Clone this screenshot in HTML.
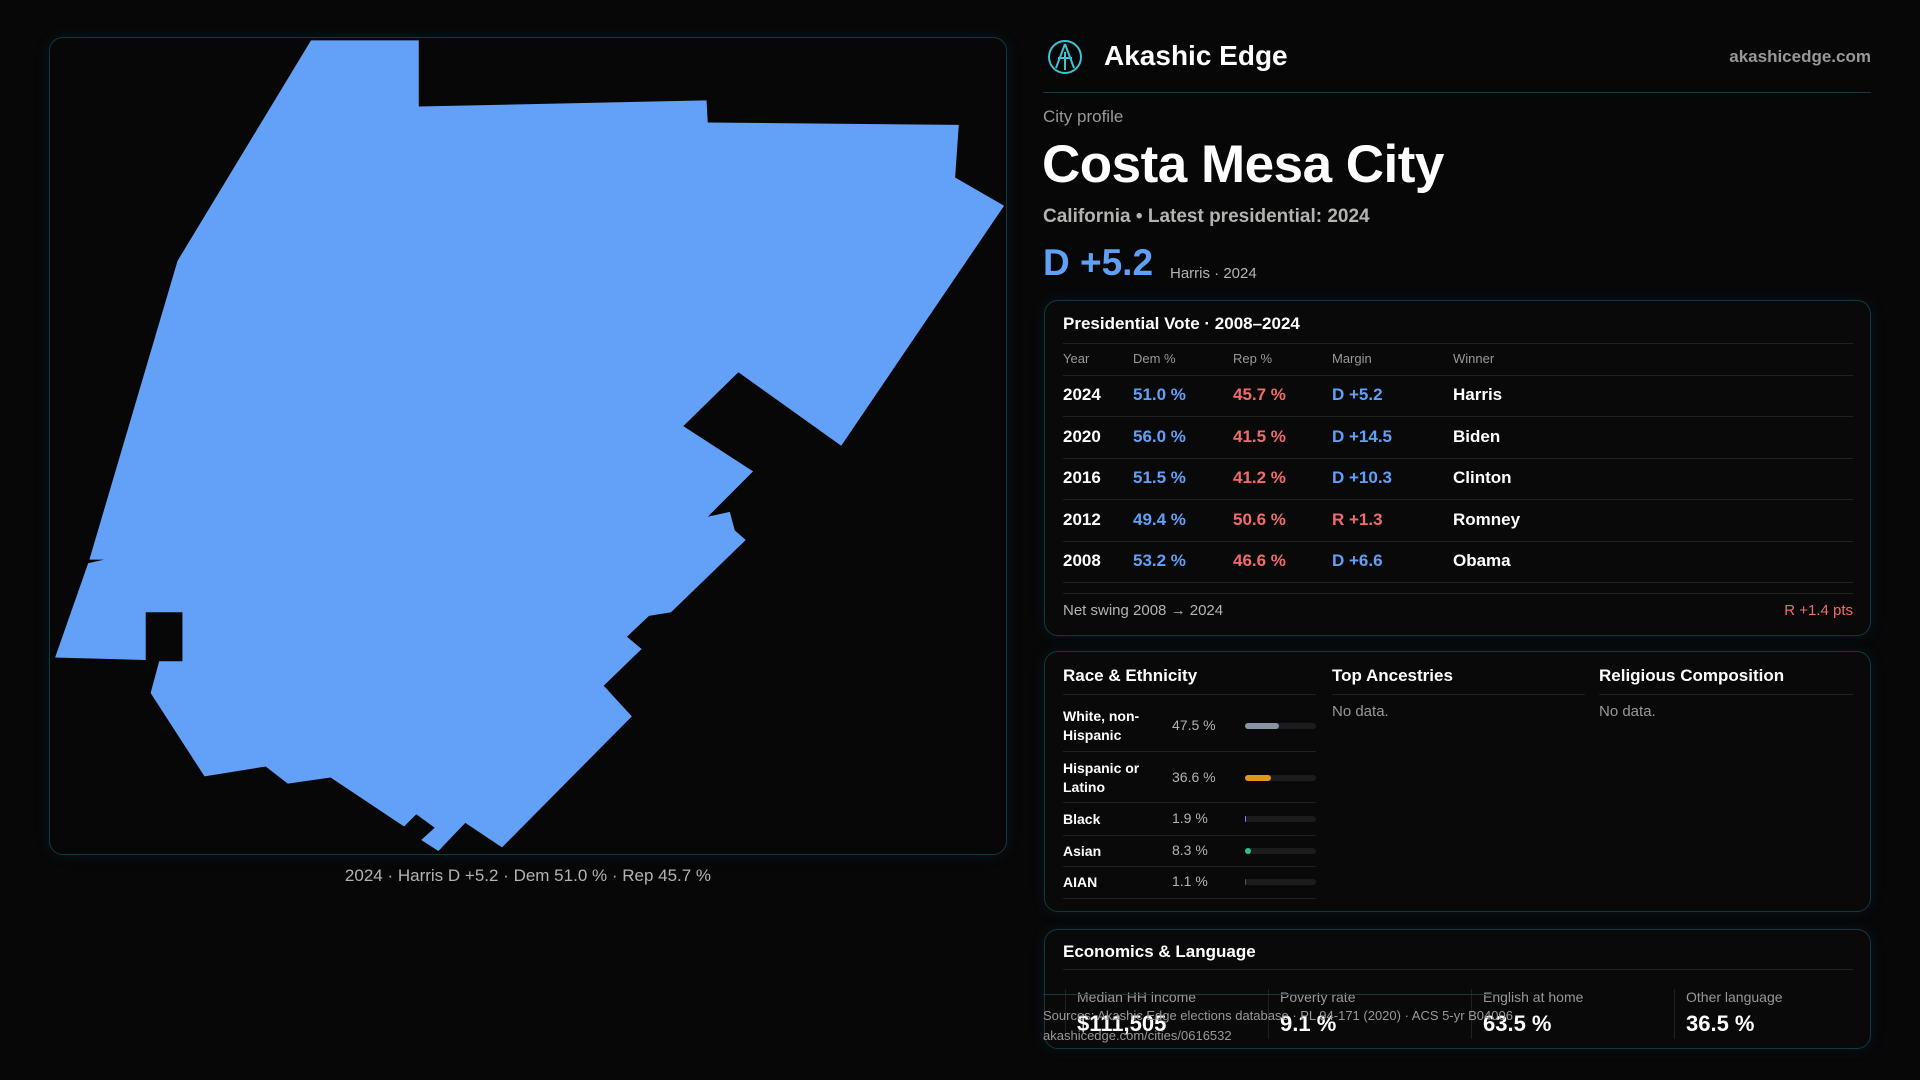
<!DOCTYPE html>
<html><head><meta charset="utf-8">
<style>
*{box-sizing:border-box;margin:0;padding:0}
body{width:1920px;height:1080px;background:#070708;font-family:"Liberation Sans",sans-serif;color:#fff;position:relative;overflow:hidden}
.abs{position:absolute}
.card{position:absolute;border:1px solid #143840;border-radius:14px;background:#09090a;box-shadow:0 0 14px rgba(30,90,110,0.18)}
.muted{color:#9a9896}
.blue{color:#5ea1f7}.red{color:#f26b6b}
.hdr{position:absolute;font-size:13px;color:#9a9896}
.line{position:absolute;height:1px;background:#1e2224}
</style></head><body>
<div class="card" style="left:49px;top:37px;width:958px;height:818px;background:#070708"></div>
<svg class="abs" style="left:0;top:0" width="1920" height="1080" viewBox="0 0 1568 882">
<path fill="#63a1f8" d="M254,33 L342,33 L342,87 L577,82 L578,100 L783,102 L780,145 L820,168 L687,364 L603,304 L558,348 L615,385 L578,422 L596,418 L600,433 L609,441 L548,500 L530,503 L512,520 L524,530 L493,560 L516,585 L410,692 L380,672 L358,695 L344,686 L355,676 L340,665 L330,675 L270,635 L235,640 L217,626 L167,634 L123,566 L130,540 L149,540 L149,500 L119,500 L119,539 L45,537 L72,460 L85,457 L73,457 L145,213 Z"/>
</svg>
<div class="abs muted" style="left:49px;width:958px;top:866px;text-align:center;font-size:17px;color:#b5b3b0">2024 · Harris D +5.2 · Dem 51.0 % · Rep 45.7 %</div>

<svg class="abs" style="left:1046px;top:38px" width="38" height="38" viewBox="0 0 38 38"><circle cx="19" cy="19" r="16" fill="none" stroke="#3fc3d0" stroke-width="2"/><path d="M19 6 L10 30 M19 6 L28 30 M12 20 H26 M19 14 V32" stroke="#3fc3d0" stroke-width="2" fill="none"/></svg>
<div class="abs" style="left:1104px;top:40px;font-size:28px;font-weight:bold">Akashic Edge</div>
<div class="abs muted" style="right:49px;top:47px;font-size:17px;font-weight:bold">akashicedge.com</div>
<div class="line" style="left:1043px;top:92px;width:828px;background:#173a40"></div>
<div class="abs muted" style="left:1043px;top:107px;font-size:17px">City profile</div>
<div class="abs" style="left:1042px;top:134px;font-size:53px;font-weight:bold;letter-spacing:-0.5px">Costa Mesa City</div>
<div class="abs" style="left:1043px;top:206px;font-size:19px;font-weight:bold;color:#b5b3b0">California • Latest presidential: 2024</div>
<div class="abs blue" style="left:1043px;top:242px;font-size:37px;font-weight:bold">D +5.2</div>
<div class="abs" style="left:1170px;top:265px;font-size:15px;color:#b5b3b0">Harris · 2024</div>

<div class="card" style="left:1044px;top:300px;width:827px;height:336px"></div>
<div class="abs" style="left:1063px;top:314px;font-size:17px;font-weight:bold">Presidential Vote · 2008–2024</div>
<div class="line" style="left:1063px;top:343px;width:790px"></div>
<div class="hdr" style="left:1063px;top:351px">Year</div>
<div class="hdr" style="left:1133px;top:351px">Dem %</div>
<div class="hdr" style="left:1233px;top:351px">Rep %</div>
<div class="hdr" style="left:1332px;top:351px">Margin</div>
<div class="hdr" style="left:1453px;top:351px">Winner</div>
<div class="line" style="left:1063px;top:375px;width:790px"></div>
<div id="rows"></div>
<div class="line" style="left:1063px;top:593px;width:790px"></div>
<div class="abs muted" style="left:1063px;top:602px;font-size:15px;color:#b5b3b0">Net swing 2008 → 2024</div>
<div class="abs red" style="right:67px;top:602px;font-size:15px">R +1.4 pts</div>

<div class="card" style="left:1044px;top:651px;width:827px;height:261px"></div>
<div class="abs" style="left:1063px;top:666px;font-size:17px;font-weight:bold">Race &amp; Ethnicity</div>
<div class="abs" style="left:1332px;top:666px;font-size:17px;font-weight:bold">Top Ancestries</div>
<div class="abs" style="left:1599px;top:666px;font-size:17px;font-weight:bold">Religious Composition</div>
<div class="line" style="left:1063px;top:694px;width:253px"></div>
<div class="line" style="left:1332px;top:694px;width:253px"></div>
<div class="line" style="left:1599px;top:694px;width:254px"></div>
<div class="abs muted" style="left:1332px;top:703px;font-size:15px">No data.</div>
<div class="abs muted" style="left:1599px;top:703px;font-size:15px">No data.</div>
<div id="race"></div>

<div class="card" style="left:1044px;top:929px;width:827px;height:120px"></div>
<div class="abs" style="left:1063px;top:942px;font-size:17px;font-weight:bold">Economics &amp; Language</div>
<div class="line" style="left:1063px;top:969px;width:790px"></div>
<div id="econ"></div>
<div class="line" style="left:1043px;top:994px;width:460px;background:#173a40"></div>
<div class="abs muted" style="left:1043px;top:1006px;font-size:13px;line-height:20px">Sources: Akashic Edge elections database · PL 94-171 (2020) · ACS 5-yr B04006<br>akashicedge.com/cities/0616532</div>

<script>
const years=["2024","2020","2016","2012","2008"];
const demPct=[51.0,56.0,51.5,49.4,53.2];
const repPct=[45.7,41.5,41.2,50.6,46.6];
const margins=[5.2,14.5,10.3,-1.3,6.6];
const winners=["Harris","Biden","Clinton","Romney","Obama"];
const raceLabels=["White, non-<br>Hispanic","Hispanic or<br>Latino","Black","Asian","AIAN"];
const raceValues=[47.5,36.6,1.9,8.3,1.1];
const raceColors=["#8a93a6","#e0961a","#8a7cf0","#2fbf86","#555"];
const econLabels=["Median HH income","Poverty rate","English at home","Other language"];
const econValues=["$111,505","9.1 %","63.5 %","36.5 %"];

const rows=document.getElementById('rows');
years.forEach((y,i)=>{
  const top=385+i*41.6;
  const m=margins[i];
  const mTxt=(m>=0?'D +':'R +')+Math.abs(m).toFixed(1);
  const cells=[[1063,y,'#fff'],[1133,demPct[i].toFixed(1)+' %','#5ea1f7'],[1233,repPct[i].toFixed(1)+' %','#f26b6b'],[1332,mTxt,m>=0?'#5ea1f7':'#f26b6b'],[1453,winners[i],'#fff']];
  const names=['year','dem','rep','margin','winner'];
  cells.forEach((c,j)=>{
    const d=document.createElement('div');
    
    
    d.className='abs';d.style.cssText=`left:${c[0]}px;top:${top}px;font-size:17px;font-weight:bold;color:${c[2]}`;
    d.textContent=c[1];rows.appendChild(d);
  });
  const l=document.createElement('div');
  
  
  l.className='line';l.style.cssText=`left:1063px;top:${416+i*41.6}px;width:790px`;rows.appendChild(l);
});

const race=document.getElementById('race');
const rowTops=[701,753,803,835,866];const rowH=[50,49,32,31,32];
raceLabels.forEach((lab,i)=>{
  const t=rowTops[i],h=rowH[i],cy=t+h/2;
  const a=document.createElement('div');
  
  
  a.className='abs';a.style.cssText=`left:1063px;top:${cy-(lab.includes('<br>')?19:9)}px;font-size:14px;font-weight:bold;line-height:19px`;
  a.innerHTML=lab;race.appendChild(a);
  const v=document.createElement('div');
  
  
  v.className='abs';v.style.cssText=`left:1172px;top:${cy-9}px;font-size:14px;color:#b5b3b0`;
  v.textContent=raceValues[i].toFixed(1)+' %';race.appendChild(v);
  const tr=document.createElement('div');
  
  
  tr.className='abs';tr.style.cssText=`left:1245px;top:${cy-3}px;width:71px;height:6px;border-radius:3px;background:#1b1c1e`;race.appendChild(tr);
  const b=document.createElement('div');
  
  
  b.className='abs';b.style.cssText=`left:1245px;top:${cy-3}px;width:${Math.max(1,raceValues[i]/100*71)}px;height:6px;border-radius:3px;background:${raceColors[i]}`;race.appendChild(b);
  const l=document.createElement('div');
  
  
  l.className='line';l.style.cssText=`left:1063px;top:${t+h}px;width:253px`;race.appendChild(l);
});

const econ=document.getElementById('econ');
econLabels.forEach((lab,i)=>{
  const x=1065+i*203;
  const s=document.createElement('div');
  
  
  s.className='abs';s.style.cssText=`left:${x}px;top:989px;width:1px;height:50px;background:#1e2224`;econ.appendChild(s);
  const a=document.createElement('div');
  
  
  a.className='abs muted';a.style.cssText=`left:${x+12}px;top:989px;font-size:14px`;a.textContent=lab;econ.appendChild(a);
  const v=document.createElement('div');
  
  
  v.className='abs';v.style.cssText=`left:${x+12}px;top:1011px;font-size:22px;font-weight:bold`;v.textContent=econValues[i];econ.appendChild(v);
});
</script>
</body></html>
